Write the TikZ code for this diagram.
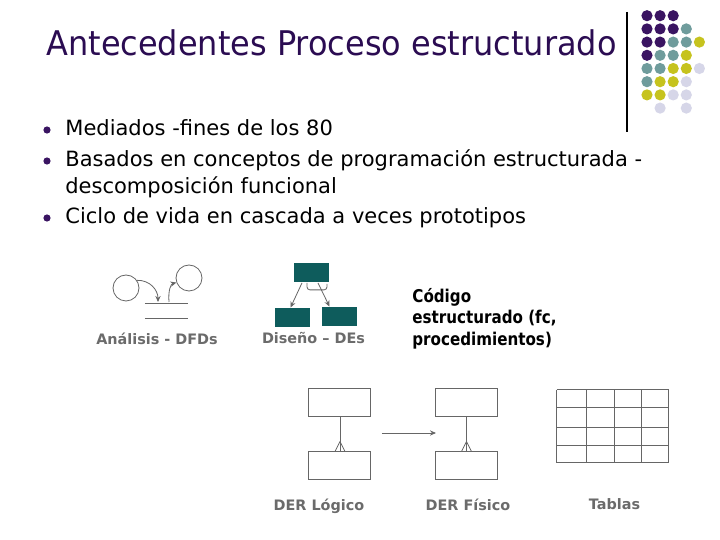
\documentclass[tikz,border=0pt]{standalone}
\usepackage{fontspec}
\setmainfont{DejaVu Sans}
\newfontfamily\titlefont{DejaVu Sans}[FakeStretch=0.94]
\newfontfamily\codefont{DejaVu Sans}[FakeStretch=0.86]
\usetikzlibrary{arrows.meta}

\definecolor{titlepurple}{HTML}{2B0C52}
\definecolor{dotpurple}{HTML}{3A1462}
\definecolor{dotteal}{HTML}{6F9C9C}
\definecolor{dotyellow}{HTML}{C6C31E}
\definecolor{dotlilac}{HTML}{D6D6E8}
\definecolor{defill}{HTML}{0E5C5C}
\definecolor{lblgrey}{HTML}{6B6B6B}
\definecolor{linegrey}{HTML}{666666}

\begin{document}
\begin{tikzpicture}[x=0.5pt,y=-0.5pt,
	dot/.style = {circle, inner sep=0pt, minimum size=5.6pt},
	bulletdot/.style = {circle, fill=dotpurple, inner sep=0pt, minimum size=3.6pt},
	body/.style = {anchor=base west, inner sep=0pt, font=\fontsize{10.5}{12}\selectfont},
	lbl/.style = {anchor=base, inner sep=0pt, text=lblgrey, font=\bfseries\fontsize{7.2}{8}\selectfont},
	dfd/.style = {draw=linegrey, circle, inner sep=0pt, minimum size=13pt},
	de/.style = {fill=defill, inner sep=0pt, minimum width=17.5pt, minimum height=9.5pt},
	ent/.style = {draw=linegrey, line width=0.5pt, inner sep=0pt, minimum width=31pt, minimum height=14pt},
	flow/.style = {draw=linegrey, -{Stealth[length=3pt,width=2.6pt]}}]
	\fill[white] (0,0) rectangle (720,540);
	\useasboundingbox (0,0) rectangle (720,540);

	% title and bullets
	\node[anchor=base west, inner sep=0pt, text=titlepurple, font=\titlefont\fontsize{17}{20}\selectfont] (title) at (46,56) {Antecedentes Proceso estructurado};
	\node[bulletdot] (b1) at (47,130) {};
	\node[bulletdot] (b2) at (47,161) {};
	\node[bulletdot] (b3) at (47,218) {};
	\node[body] (t1) at (65,136) {Mediados -fines de los 80};
	\node[body] (t2) at (65,167) {Basados en conceptos de programación estructurada -};
	\node[body] (t3) at (65,194) {descomposición funcional};
	\node[body] (t4) at (65,224) {Ciclo de vida en cascada a veces prototipos};

	% corner decoration
	\coordinate (vt) at (627,12);
	\coordinate (vb) at (627,132);
	\draw[black, line width=0.6pt] (vt) -- (vb);
	\foreach \c/\r/\col in {0/0/dotpurple, 1/0/dotpurple, 2/0/dotpurple,
		0/1/dotpurple, 1/1/dotpurple, 2/1/dotpurple, 3/1/dotteal,
		0/2/dotpurple, 1/2/dotpurple, 2/2/dotteal, 3/2/dotteal, 4/2/dotyellow,
		0/3/dotpurple, 1/3/dotteal, 2/3/dotteal, 3/3/dotyellow,
		0/4/dotteal, 1/4/dotteal, 2/4/dotyellow, 3/4/dotyellow, 4/4/dotlilac,
		0/5/dotteal, 1/5/dotyellow, 2/5/dotyellow, 3/5/dotlilac,
		0/6/dotyellow, 1/6/dotyellow, 2/6/dotlilac, 3/6/dotlilac,
		1/7/dotlilac, 3/7/dotlilac}
		\node[dot, fill=\col] (d\c\r) at ({647+13.1*\c},{15.7+13.2*\r}) {};

	% analisis - DFDs
	\node[dfd] (p1) at (126,288) {};
	\node[dfd] (p2) at (189,278) {};
	\coordinate (s1a) at (145,303);
	\coordinate (s1b) at (188,303);
	\coordinate (s2a) at (145,318);
	\coordinate (s2b) at (188,318);
	\draw[linegrey] (s1a) -- (s1b);
	\draw[linegrey] (s2a) -- (s2b);
	\coordinate (fin) at (158,302);
	\coordinate (fout) at (169,302);
	\draw[flow] (p1.35) .. controls (150,280) and (158,290) .. (fin);
	\draw[flow] (fout) .. controls (168,290) and (171,284) .. (p2.200);
	\node[lbl] (lan) at (157,345) {Análisis - DFDs};

	% diseno - DEs
	\node[de] (dtop) at (312,273) {};
	\node[de] (dleft) at (292.5,317.5) {};
	\node[de] (dright) at (339.5,316.5) {};
	\draw[flow] ([xshift=-5pt]dtop.south) -- ([xshift=-1pt]dleft.north);
	\draw[flow] ([xshift=3pt]dtop.south) -- ([xshift=-5pt]dright.north);
	\draw[linegrey, rounded corners=1.5pt] ([xshift=-2.5pt]dtop.south) -- ++(0,7) -- ++(20,0) -- ++(0,-6);
	\node[lbl] (ldis) at (313.5,344) {Diseño -- DEs};

	% codigo
	\node[anchor=north west, align=left, inner sep=0pt, font=\codefont\bfseries\fontsize{8.8}{10.75}\selectfont] (cod) at (412,288) {Código\\estructurado (fc,\\procedimientos)};

	% DER logico y fisico
	\node[ent] (l1) at (340,403) {};
	\node[ent] (l2) at (340,466) {};
	\node[ent] (f1) at (466.5,403) {};
	\node[ent] (f2) at (466.5,466) {};
	\draw[linegrey] (l1) -- (l2);
	\draw[linegrey] ([yshift=5pt]l2.north) -- ([xshift=-2.5pt]l2.north);
	\draw[linegrey] ([yshift=5pt]l2.north) -- ([xshift=2.5pt]l2.north);
	\draw[linegrey] (f1) -- (f2);
	\draw[linegrey] ([yshift=5pt]f2.north) -- ([xshift=-2.5pt]f2.north);
	\draw[linegrey] ([yshift=5pt]f2.north) -- ([xshift=2.5pt]f2.north);
	\coordinate (h1) at (382,433);
	\coordinate (h2) at (436,433);
	\draw[flow] (h1) -- (h2);
	\node[lbl] (lder) at (319,511) {DER Lógico};
	\node[lbl] (lfis) at (468,511) {DER Físico};

	% tablas
	\foreach \gx in {557,587,615,642,669}
		\draw[linegrey, line width=0.5pt] (\gx,390) -- (\gx,463);
	\foreach \gy in {390,408,428,446,463}
		\draw[linegrey, line width=0.5pt] (557,\gy) -- (669,\gy);
	\node[lbl] (ltab) at (614.5,510) {Tablas};
\end{tikzpicture}
\end{document}
